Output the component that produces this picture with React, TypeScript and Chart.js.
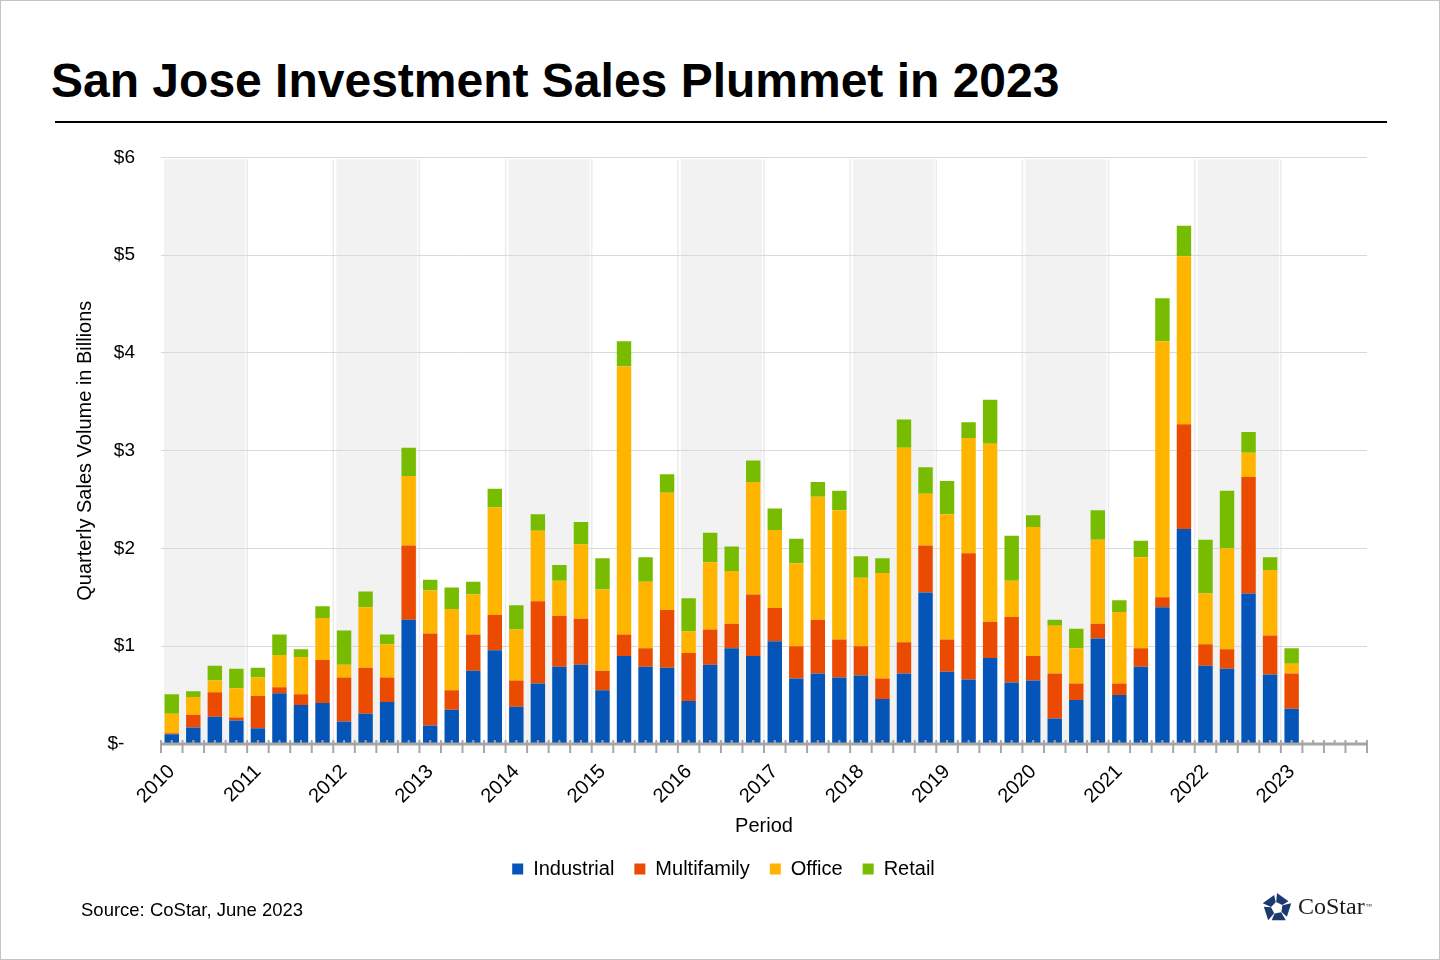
import React, { useEffect, useRef } from 'react';
import { Chart, registerables } from 'chart.js';

Chart.register(...registerables);

const years = ['2010', '2011', '2012', '2013', '2014', '2015', '2016', '2017', '2018', '2019', '2020', '2021', '2022', '2023'];
const quarters = ['Q1', 'Q2', 'Q3', 'Q4'];
const categories = years.flatMap((y) => quarters.map((q) => `${y} ${q}`));
const shadedYears = ['2010', '2012', '2014', '2016', '2018', '2020', '2022'];
const yTicks = [0, 1, 2, 3, 4, 5, 6];

const seriesNames = ['Industrial', 'Multifamily', 'Office', 'Retail'];
const seriesColors = ['#0455B7', '#EA4B00', '#FFB500', '#77BC00'];

// Quarterly sales volume, $ billions
const industrial = [
  0.10, 0.17, 0.28, 0.24, 0.16, 0.52, 0.40, 0.42, 0.23, 0.31, 0.43, 1.27,
  0.19, 0.35, 0.75, 0.96, 0.38, 0.62, 0.79, 0.81, 0.55, 0.90, 0.79, 0.78,
  0.44, 0.81, 0.98, 0.90, 1.05, 0.67, 0.72, 0.68, 0.70, 0.46, 0.72, 1.55,
  0.74, 0.66, 0.88, 0.63, 0.65, 0.26, 0.45, 1.08, 0.50, 0.79, 1.40, 2.20,
  0.80, 0.77, 1.54, 0.71, 0.36, null, null, null,
];
const multifamily = [
  0.01, 0.13, 0.25, 0.03, 0.33, 0.06, 0.11, 0.44, 0.45, 0.47, 0.25, 0.76,
  0.94, 0.20, 0.37, 0.36, 0.27, 0.84, 0.52, 0.47, 0.20, 0.22, 0.19, 0.59,
  0.49, 0.36, 0.25, 0.63, 0.34, 0.33, 0.55, 0.39, 0.30, 0.21, 0.32, 0.48,
  0.33, 1.29, 0.37, 0.67, 0.25, 0.46, 0.17, 0.15, 0.12, 0.19, 0.10, 1.07,
  0.22, 0.20, 1.19, 0.40, 0.36, null, null, null,
];
const office = [
  0.20, 0.18, 0.12, 0.30, 0.19, 0.33, 0.38, 0.43, 0.13, 0.62, 0.34, 0.71,
  0.44, 0.83, 0.41, 1.10, 0.52, 0.72, 0.36, 0.76, 0.83, 2.74, 0.68, 1.20,
  0.22, 0.69, 0.54, 1.15, 0.80, 0.85, 1.26, 1.32, 0.70, 1.08, 1.99, 0.53,
  1.28, 1.18, 1.82, 0.37, 1.32, 0.49, 0.36, 0.86, 0.73, 0.93, 2.62, 1.72,
  0.52, 1.03, 0.25, 0.67, 0.10, null, null, null,
];
const retail = [
  0.20, 0.06, 0.15, 0.20, 0.10, 0.21, 0.08, 0.12, 0.35, 0.16, 0.10, 0.29,
  0.11, 0.22, 0.13, 0.19, 0.25, 0.17, 0.16, 0.23, 0.32, 0.26, 0.25, 0.19,
  0.34, 0.30, 0.25, 0.22, 0.22, 0.25, 0.15, 0.20, 0.22, 0.15, 0.29, 0.27,
  0.34, 0.16, 0.45, 0.46, 0.12, 0.06, 0.20, 0.30, 0.12, 0.17, 0.44, 0.31,
  0.55, 0.59, 0.21, 0.13, 0.16, null, null, null,
];
const seriesValues = [industrial, multifamily, office, retail];

const FONT = "'Liberation Sans', Arial, sans-serif";
Chart.defaults.font.family = FONT;
Chart.defaults.color = '#000';

const AXIS_GRAY = '#a6a6a6';

const bandsPlugin = {
  id: 'yearBands',
  beforeDraw(chart: any) {
    const { ctx, chartArea, scales } = chart;
    const xs = scales.x;
    const half = (xs.getPixelForValue(1) - xs.getPixelForValue(0)) / 2;
    ctx.save();
    ctx.fillStyle = '#f2f2f2';
    shadedYears.forEach((yr) => {
      const i0 = categories.indexOf(`${yr} Q1`);
      const i1 = categories.indexOf(`${yr} Q4`);
      const x0 = xs.getPixelForValue(i0) - half + 3;
      const x1 = xs.getPixelForValue(i1) + half - 2;
      ctx.fillRect(x0, chartArea.top + 2, x1 - x0, chartArea.bottom - chartArea.top - 2);
    });
    ctx.strokeStyle = '#ebebeb';
    ctx.lineWidth = 1.5;
    years.forEach((yr, k) => {
      if (k === 0) return;
      const i0 = categories.indexOf(`${yr} Q1`);
      const xb = xs.getPixelForValue(i0) - half;
      ctx.beginPath();
      ctx.moveTo(xb, chartArea.top + 2);
      ctx.lineTo(xb, chartArea.bottom);
      ctx.stroke();
    });
    ctx.restore();
  },
};

const axisPlugin = {
  id: 'quarterAxis',
  afterDatasetsDraw(chart: any) {
    const { ctx, chartArea, scales } = chart;
    const xs = scales.x;
    const n = categories.length;
    const half = (xs.getPixelForValue(1) - xs.getPixelForValue(0)) / 2;
    const y0 = chartArea.bottom;
    ctx.save();
    ctx.strokeStyle = AXIS_GRAY;
    ctx.lineWidth = 3;
    ctx.beginPath();
    ctx.moveTo(chartArea.left, y0);
    ctx.lineTo(chartArea.right, y0);
    ctx.stroke();
    ctx.lineWidth = 2;
    for (let i = 0; i <= n; i++) {
      const xb = i < n ? xs.getPixelForValue(i) - half : xs.getPixelForValue(n - 1) + half;
      ctx.beginPath();
      ctx.moveTo(xb, y0 - 4);
      ctx.lineTo(xb, y0 + 9);
      ctx.stroke();
    }
    for (let i = 0; i < n; i++) {
      const xc = xs.getPixelForValue(i);
      ctx.beginPath();
      ctx.moveTo(xc, y0 - 4);
      ctx.lineTo(xc, y0);
      ctx.stroke();
    }
    ctx.restore();
  },
};

function CoStarMark() {
  const R = 15;
  const r = 6;
  const cx = 17;
  const cy = 17;
  const pieces: string[] = [];
  for (let k = 0; k < 5; k++) {
    const a0 = ((-90 + 72 * k) * Math.PI) / 180;
    const a1 = ((-90 + 72 * (k + 1)) * Math.PI) / 180;
    const v0 = [cx + R * Math.cos(a0), cy + R * Math.sin(a0)];
    const v1 = [cx + R * Math.cos(a1), cy + R * Math.sin(a1)];
    const t = 0.8;
    const e = [v0[0] + t * (v1[0] - v0[0]), v0[1] + t * (v1[1] - v0[1])];
    const ai = a0 + (60 * Math.PI) / 180;
    const i1 = [cx + r * Math.cos(ai), cy + r * Math.sin(ai)];
    const aj = a0 - (8 * Math.PI) / 180;
    const i0 = [cx + r * Math.cos(aj), cy + r * Math.sin(aj)];
    pieces.push([v0, e, i1, i0].map((p) => `${p[0].toFixed(2)},${p[1].toFixed(2)}`).join(' '));
  }
  return (
    <svg width="34" height="34" viewBox="0 0 34 34" style={{ display: 'block' }}>
      {pieces.map((p, idx) => (
        <polygon key={idx} points={p} fill="#1d3a70" />
      ))}
    </svg>
  );
}

export default function App() {
  const canvasRef = useRef<HTMLCanvasElement | null>(null);

  useEffect(() => {
    if (!canvasRef.current) return;
    const chart = new Chart(canvasRef.current, {
      type: 'bar',
      data: {
        labels: categories,
        datasets: seriesNames.map((name, i) => ({
          label: name,
          data: seriesValues[i],
          backgroundColor: seriesColors[i],
          borderWidth: 0,
          barPercentage: 0.67,
          categoryPercentage: 1,
        })),
      },
      plugins: [bandsPlugin, axisPlugin],
      options: {
        responsive: false,
        animation: false,
        layout: { padding: { left: 79, right: 74, top: 16, bottom: 32 } },
        plugins: {
          tooltip: { enabled: false },
          legend: {
            position: 'bottom',
            labels: {
              boxWidth: 11,
              boxHeight: 11,
              padding: 20,
              font: { size: 20 },
              color: '#000',
            },
          },
        },
        scales: {
          x: {
            stacked: true,
            offset: true,
            grid: { display: false },
            border: { display: false },
            afterFit: (scale: any) => {
              scale.height = 95;
            },
            ticks: {
              autoSkip: false,
              maxRotation: 45,
              minRotation: 45,
              padding: 8,
              font: { size: 20 },
              color: '#000',
              callback: (_v: any, idx: number) => {
                const c = categories[idx];
                return c.endsWith('Q1') ? c.slice(0, 4) : '';
              },
            },
            title: {
              display: true,
              text: 'Period',
              font: { size: 20 },
              color: '#000',
              padding: { top: 0, bottom: 1 },
            },
          },
          y: {
            stacked: true,
            min: 0,
            max: 6,
            afterFit: (scale: any) => {
              scale.width = 81;
            },
            afterBuildTicks: (scale: any) => {
              scale.ticks = yTicks.map((v) => ({ value: v }));
            },
            grid: { color: '#d9d9d9', lineWidth: 1, drawTicks: false },
            border: { display: false },
            ticks: {
              padding: 26,
              font: { size: 19 },
              color: '#000',
              callback: (v: any) => (Number(v) === 0 ? '$-  ' : `$${v}`),
            },
            title: {
              display: true,
              text: 'Quarterly Sales Volume in Billions',
              font: { size: 20 },
              color: '#000',
              padding: { top: -7, bottom: 0 },
            },
          },
        },
      },
    } as any);
    return () => chart.destroy();
  }, []);

  return (
    <div
      style={{
        position: 'absolute',
        left: 0,
        top: 0,
        width: 1440,
        height: 960,
        boxSizing: 'border-box',
        border: '1px solid #c4c4c4',
        background: '#fff',
        fontFamily: FONT,
        overflow: 'hidden',
      }}
    >
      <div
        style={{
          position: 'absolute',
          left: 50,
          top: 56,
          fontSize: 48,
          lineHeight: '48px',
          fontWeight: 'bold',
          color: '#000',
          whiteSpace: 'nowrap',
        }}
      >
        San Jose Investment Sales Plummet in 2023
      </div>
      <div style={{ position: 'absolute', left: 54, top: 120, width: 1332, height: 2, background: '#000' }} />
      <canvas
        ref={canvasRef}
        width={1440}
        height={801}
        style={{ position: 'absolute', left: 0, top: 119, width: 1440, height: 801 }}
      />
      <div
        style={{
          position: 'absolute',
          left: 80,
          top: 900,
          fontSize: 18.5,
          lineHeight: '18.5px',
          color: '#000',
          whiteSpace: 'nowrap',
        }}
      >
        Source: CoStar, June 2023
      </div>
      <div style={{ position: 'absolute', left: 1259, top: 890 }}>
        <CoStarMark />
      </div>
      <div
        style={{
          position: 'absolute',
          left: 1297,
          top: 893,
          fontFamily: "'Liberation Serif', 'Times New Roman', serif",
          fontSize: 24,
          lineHeight: '24px',
          color: '#1a1a1a',
          whiteSpace: 'nowrap',
        }}
      >
        CoStar<span style={{ fontSize: 6, verticalAlign: 'top', marginLeft: 1 }}>™</span>
      </div>
    </div>
  );
}
